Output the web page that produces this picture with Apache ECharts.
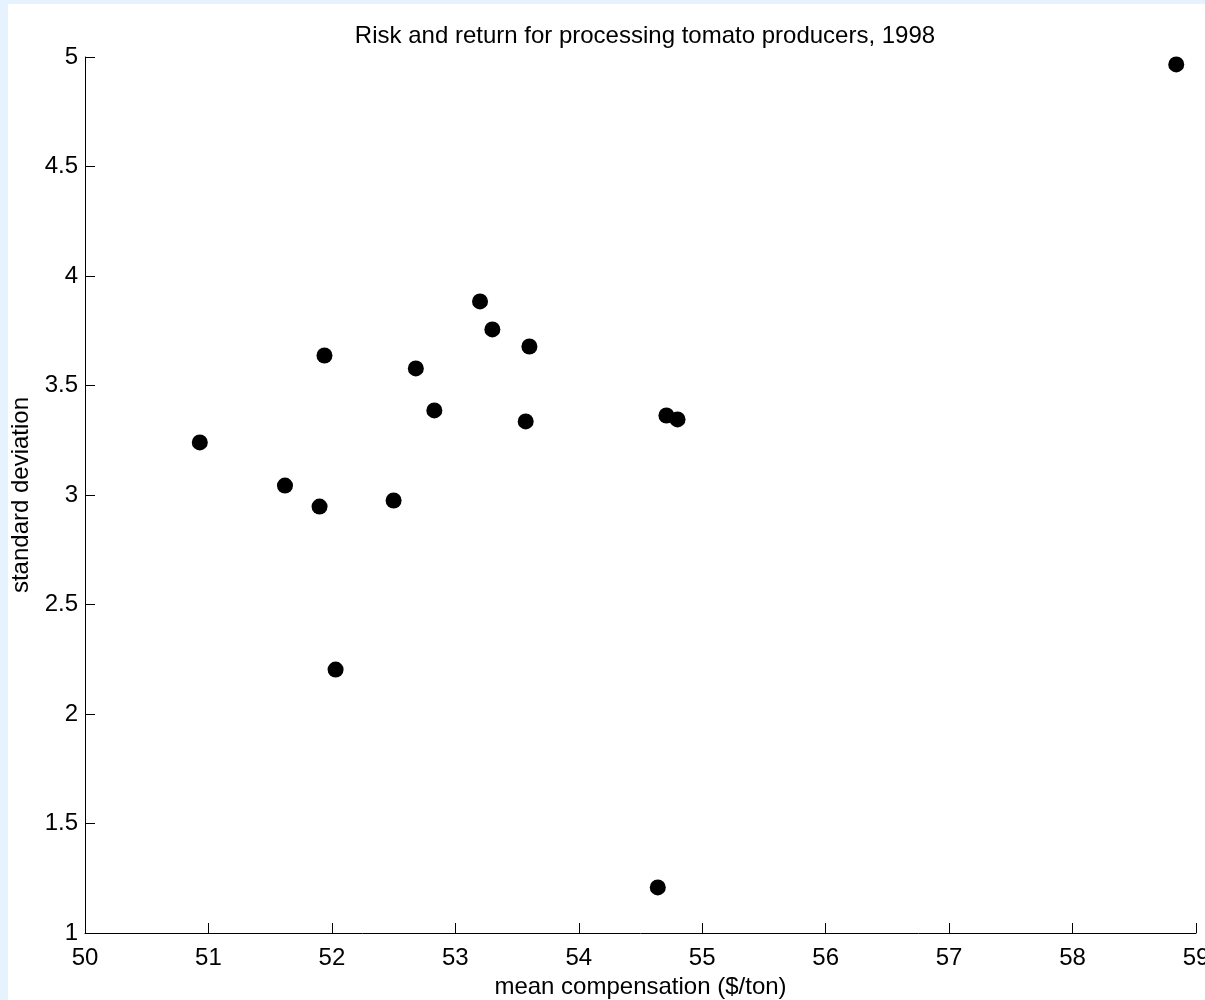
<!DOCTYPE html>
<html>
<head>
<meta charset="utf-8">
<script src="https://cdn.jsdelivr.net/npm/echarts@6/dist/echarts.min.js"></script>
<style>
  html, body { margin: 0; padding: 0; background: #e6f2fd; }
  #main { position: absolute; left: 8px; top: 4px; width: 1197px; height: 996px; background: #fff; }
</style>
</head>
<body>
<div id="main"></div>
<script>
// mean compensation ($/ton) vs standard deviation
const meanComp = [58.84, 53.20, 53.30, 53.60, 51.94, 52.68, 52.83, 53.57, 54.71, 54.80, 50.93, 51.62, 51.90, 52.50, 52.03, 54.64];
const stdDev   = [4.966, 3.884, 3.756, 3.678, 3.637, 3.578, 3.386, 3.336, 3.363, 3.345, 3.240, 3.043, 2.947, 2.975, 2.203, 1.208];

const points = meanComp.map((x, i) => [x, stdDev[i]]);
const font = 'Liberation Sans, Arial, Helvetica, sans-serif';

let myChart = echarts.init(document.getElementById('main'));
let option = {
  animation: false,
  title: {
    text: 'Risk and return for processing tomato producers, 1998',
    left: 632, top: 15, textAlign: 'center',
    textStyle: { fontFamily: font, fontSize: 24, fontWeight: 'normal', color: '#000' }
  },
  grid: { left: 77, right: 9, top: 53, bottom: 67, outerBoundsMode: 'none' },
  xAxis: {
    type: 'value', min: 50, max: 59, interval: 1,
    name: 'mean compensation ($/ton)', nameLocation: 'middle', nameGap: 41,
    nameTextStyle: { fontFamily: font, fontSize: 24, color: '#000' },
    axisLine: { lineStyle: { color: '#000', width: 1 } },
    axisTick: { inside: true, length: 10, lineStyle: { color: '#000' } },
    axisLabel: { fontFamily: font, fontSize: 24, color: '#000', margin: 13, showMaxLabel: true, showMinLabel: true },
    splitLine: { show: false }
  },
  yAxis: {
    type: 'value', min: 1, max: 5, interval: 0.5,
    name: 'standard deviation', nameLocation: 'middle', nameGap: 49,
    nameTextStyle: { fontFamily: font, fontSize: 24, color: '#000' },
    axisLine: { show: true, lineStyle: { color: '#000', width: 1 } },
    axisTick: { show: true, inside: true, length: 10, lineStyle: { color: '#000' } },
    axisLabel: { fontFamily: font, fontSize: 24, color: '#000', margin: 7 },
    splitLine: { show: false }
  },
  series: [{
    type: 'scatter',
    data: points,
    symbol: 'circle',
    symbolSize: 16,
    itemStyle: { color: '#000', opacity: 1 }
  }]
};
myChart.setOption(option);
</script>
</body>
</html>
